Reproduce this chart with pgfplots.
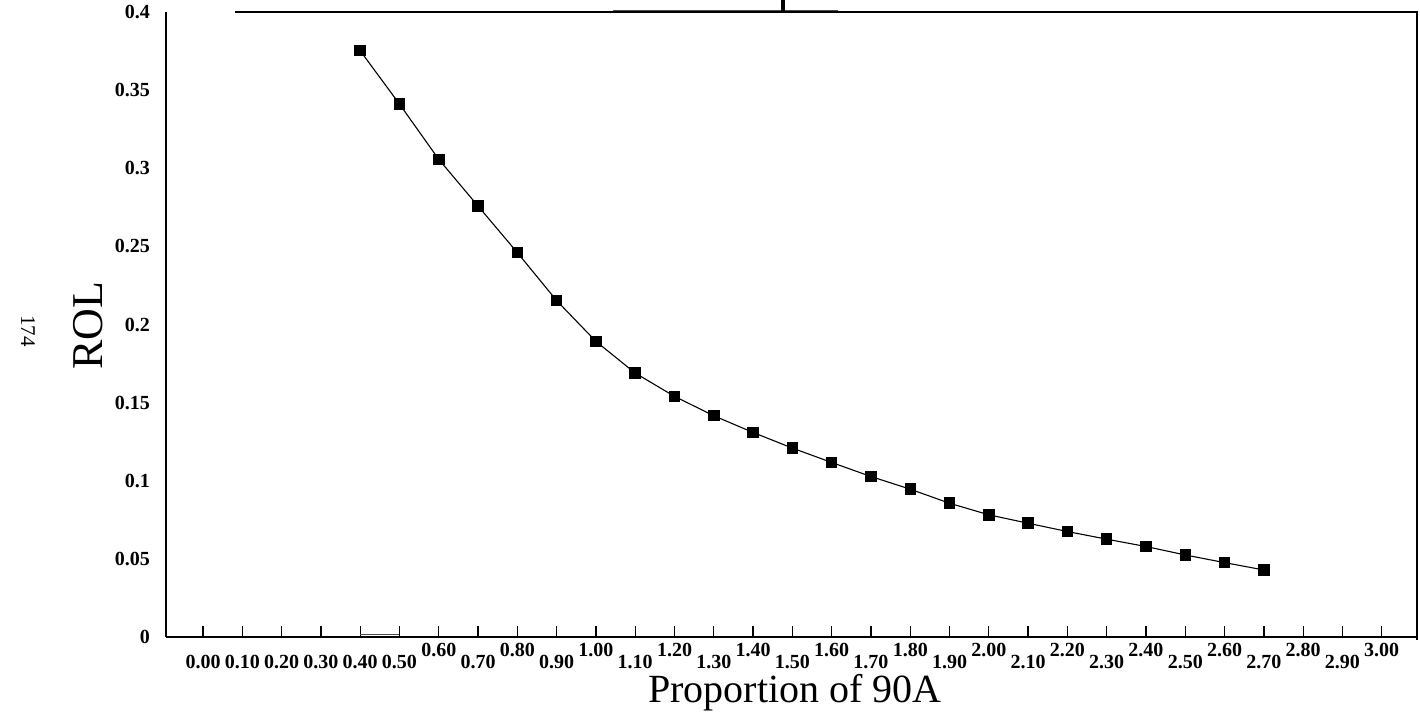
\documentclass[border=0pt]{standalone}
\usepackage{pgfplots}
\pgfplotsset{compat=1.18}
\usepackage{fontspec}
\setmainfont{Liberation Serif}

% alternate tick labels sit a little higher
\newcommand{\hi}[1]{\raisebox{12bp}{#1}}

\pgfplotstableread{
x    rol
0.4  0.3752
0.5  0.3411
0.6  0.3057
0.7  0.2758
0.8  0.2460
0.9  0.2153
1.0  0.1892
1.1  0.1689
1.2  0.1540
1.3  0.1416
1.4  0.1309
1.5  0.1209
1.6  0.1117
1.7  0.1027
1.8  0.0946
1.9  0.0856
2.0  0.0782
2.1  0.0728
2.2  0.0675
2.3  0.0626
2.4  0.0579
2.5  0.0525
2.6  0.0476
2.7  0.0429
}\roltable

\begin{document}
\begin{tikzpicture}
\useasboundingbox (0,0) rectangle (1420bp,716bp);
\begin{axis}[
  at={(166bp,79bp)}, anchor=south west,
  scale only axis,
  width=1251bp, height=625bp,
  xmin=-0.0942, xmax=3.0898,
  ymin=0, ymax=0.4,
  axis x line*=bottom, axis y line*=left,
  axis line style={line width=1.6bp},
  /pgf/number format/assume math mode=true,
  xtick={0,0.1,0.2,0.3,0.4,0.5,0.6,0.7,0.8,0.9,1.0,1.1,1.2,1.3,1.4,1.5,1.6,1.7,1.8,1.9,2.0,2.1,2.2,2.3,2.4,2.5,2.6,2.7,2.8,2.9,3.0},
  xticklabels={0.00,0.10,0.20,0.30,0.40,0.50,\hi{0.60},0.70,\hi{0.80},0.90,\hi{1.00},1.10,\hi{1.20},1.30,\hi{1.40},1.50,\hi{1.60},1.70,\hi{1.80},1.90,\hi{2.00},2.10,\hi{2.20},2.30,\hi{2.40},2.50,\hi{2.60},2.70,\hi{2.80},2.90,\hi{3.00}},
  xticklabel style={font=\fontsize{20bp}{22bp}\selectfont\bfseries, anchor=base, yshift=-31.5bp, inner sep=0pt},
  xtick align=inside,
  x tick style={line width=1.3bp, black},
  major tick length=11bp,
  ytick={0,0.05,0.1,0.15,0.2,0.25,0.3,0.35,0.4},
  yticklabels={0,0.05,0.1,0.15,0.2,0.25,0.3,0.35,0.4},
  yticklabel style={font=\fontsize{20bp}{22bp}\selectfont\bfseries, anchor=east, inner sep=0pt, xshift=-16bp},
  y tick style={draw=none},
  xlabel={Proportion of 90A},
  xlabel style={font=\fontsize{40bp}{44bp}\selectfont, at={(axis description cs:0.5028,-0.0896)}, anchor=center},
  ylabel={ROL},
  ylabel style={font=\fontsize{44bp}{48bp}\selectfont, at={(axis description cs:-0.0624,0.4976)}, anchor=center, rotate=0},
  clip=false,
]
\addplot[black, line width=1.1bp, mark=square*, mark size=5.2bp, mark options={solid, fill=black}]
  table[x=x, y=rol] {\roltable};
% remaining frame: partial top edge and right edge
\draw[line width=1.7bp] (rel axis cs:0.0552,1) -- (rel axis cs:1.0005,1);
\draw[line width=1.6bp] (rel axis cs:1,1) -- (rel axis cs:1,-0.0048);
% faint strokes along the edges
\draw[line width=0.9bp, black!70] (rel axis cs:0.357,1.0032) -- (rel axis cs:0.537,1.0032);
\draw[line width=4bp] (rel axis cs:0.4935,1) -- (rel axis cs:0.4935,1.02);
\draw[line width=1bp, black!70] (axis cs:0.4,0.0015) -- (axis cs:0.5,0.0015);
\end{axis}
\node[rotate=-90, font=\fontsize{21bp}{23bp}\selectfont] at (28bp,385bp) {174};
\end{tikzpicture}
\end{document}
